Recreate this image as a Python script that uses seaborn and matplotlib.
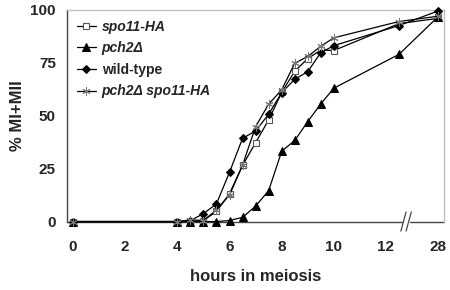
import matplotlib
matplotlib.use("Agg")
import matplotlib.pyplot as plt
import matplotlib.transforms as mtransforms
import seaborn as sns

# hours sampled; 28 h sits after the axis break
hours = [0, 4, 4.5, 5, 5.5, 6, 6.5, 7, 7.5, 8, 8.5, 9, 9.5, 10, 12.5, 28]
spo11_ha = [0, 0, 0, 0.5, 4.8, 13.2, 26.5, 37.3, 48.0, 61.0, 71.0, 77.0, 81.0, 80.8, 93.5, 96.0]
pch2 = [0, 0, 0, 0, 0, 0.5, 2.0, 7.3, 14.6, 33.2, 38.3, 47.2, 55.6, 63.0, 79.0, 96.8]
wild_type = [0, 0, 0.5, 3.7, 8.4, 23.3, 39.3, 42.8, 50.7, 60.9, 67.2, 70.8, 79.8, 83.1, 92.6, 99.5]
pch2_spo11 = [0, 0, 0.8, 0.5, 5.5, 12.5, 26.7, 44.8, 55.5, 62.2, 74.8, 78.0, 82.8, 86.8, 94.5, 97.0]

tick_pos = [0, 2, 4, 6, 8, 10, 12, 14]
tick_labels = ["0", "2", "4", "6", "8", "10", "12", "28"]
y_ticks = [0, 25, 50, 75, 100]


def to_pos(h):
    # compress the long gap: 28 h drawn at position 14
    return h if h <= 13 else 14


x = [to_pos(h) for h in hours]

sns.set_style("white")
plt.rcParams["font.family"] = ["Liberation Sans", "DejaVu Sans"]
plt.rcParams["font.weight"] = "bold"

fig = plt.figure(figsize=(4.5, 2.9), dpi=100)
ax = fig.add_axes([0.149, 0.236, 0.838, 0.730])

series = [
    (spo11_ha, "spo11-HA", dict(marker="s", markersize=5, markerfacecolor="white",
                                markeredgecolor="#555555", markeredgewidth=0.8)),
    (pch2, "pch2\u0394", dict(marker="^", markersize=6, markerfacecolor="black",
                             markeredgecolor="black")),
    (wild_type, "wild-type", dict(marker="D", markersize=4, markerfacecolor="black",
                                  markeredgecolor="black")),
    (pch2_spo11, "pch2\u0394 spo11-HA", dict(marker=(6, 2, 0), markersize=6,
                                           markeredgecolor="#777777", markeredgewidth=0.7)),
]

for vals, name, style in series:
    sns.lineplot(x=x, y=vals, ax=ax, color="black", linewidth=0.9, label=name,
                 estimator=None, sort=False, clip_on=False, zorder=3, **style)

ax.set_xlim(-0.23, 14.23)
ax.set_ylim(0, 100)

# labels at whole positions, tick marks slightly to the left (as in source)
ax.set_xticks(tick_pos)
ax.set_xticklabels(tick_labels, fontsize=11, fontweight="bold")
ax.set_xticks([p - 0.23 for p in tick_pos[1:]], minor=True)
ax.tick_params(axis="x", which="major", length=0, pad=13)
ax.tick_params(axis="x", which="minor", length=4, direction="out", width=0.8, color="#444444")
ax.set_yticks(y_ticks)
ax.set_yticklabels([str(v) for v in y_ticks], fontsize=11, fontweight="bold")
ax.tick_params(axis="y", length=4, direction="out", width=0.8, color="#444444", pad=4)

ax.set_xlabel("hours in meiosis", fontsize=12, fontweight="bold", labelpad=11)
ax.set_ylabel("% MI+MII", fontsize=12, fontweight="bold")
ax.yaxis.set_label_coords(-0.112, 0.5)

for side in ["top", "right"]:
    ax.spines[side].set_color("#c0c0c0")
    ax.spines[side].set_linewidth(1)
ax.spines["left"].set_color("#444444")
ax.spines["left"].set_linewidth(1)
ax.spines["bottom"].set_visible(False)

# bottom axis with a break between 12 and 28
trans = mtransforms.blended_transform_factory(ax.transData, ax.transAxes)
ax.plot([-0.23, 12.62], [0, 0], color="#444444", lw=1, transform=trans, clip_on=False, zorder=2)
ax.plot([12.92, 14.23], [0, 0], color="#444444", lw=1, transform=trans, clip_on=False, zorder=2)
for dx in (12.62, 12.82):
    ax.plot([dx - 0.05, dx + 0.15], [-0.045, 0.045], color="#444444", lw=0.9,
            transform=trans, clip_on=False, zorder=2)

leg = ax.legend(loc="upper left", bbox_to_anchor=(0.0, 1.0), frameon=False,
                fontsize=10, handlelength=1.4, handletextpad=0.4, labelspacing=0.55,
                borderaxespad=0.3)
for t in leg.get_texts():
    t.set_fontweight("bold")
    if t.get_text() != "wild-type":
        t.set_fontstyle("italic")

fig.savefig("out.png", dpi=100)
